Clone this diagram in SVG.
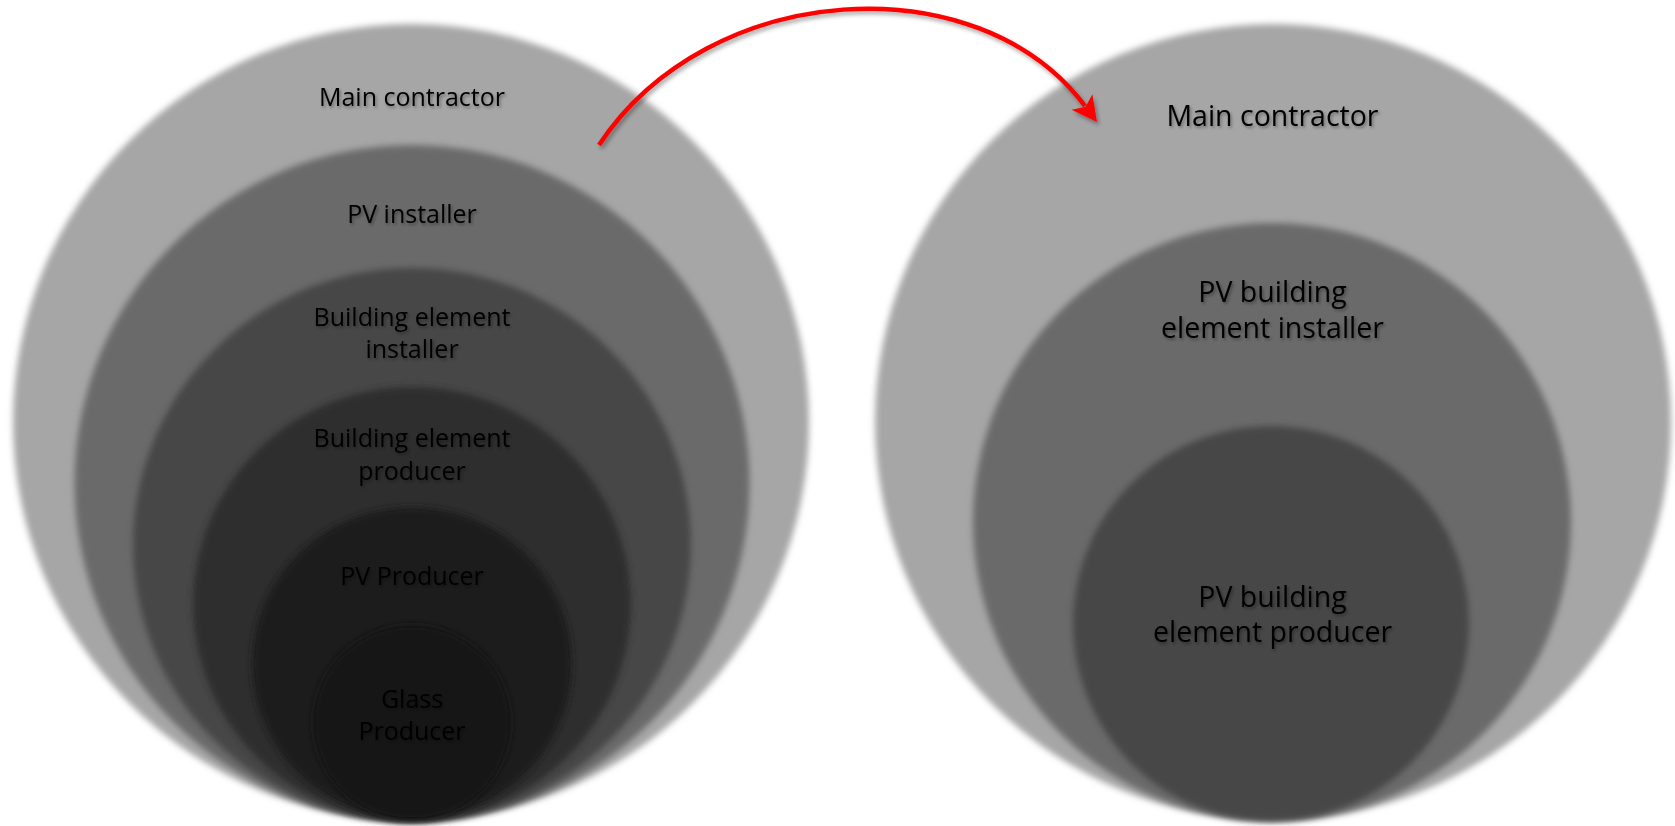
<svg xmlns="http://www.w3.org/2000/svg" width="1675" height="826" viewBox="0 0 1675 826">
  <defs>
    <filter id="soft" x="-10%" y="-10%" width="120%" height="120%">
      <feGaussianBlur stdDeviation="3"/>
    </filter>
    <filter id="tshadow" x="-10%" y="-30%" width="120%" height="160%">
      <feDropShadow dx="1.5" dy="2" stdDeviation="1.6" flood-color="#000" flood-opacity="0.35"/>
    </filter>
    <filter id="ashadow" x="-10%" y="-20%" width="120%" height="140%">
      <feDropShadow dx="2" dy="3" stdDeviation="2" flood-color="#000" flood-opacity="0.35"/>
    </filter>
    <marker id="head" viewBox="0 0 26 26" refX="5" refY="13" markerWidth="26" markerHeight="26" markerUnits="userSpaceOnUse" orient="auto">
      <path d="M25,13 L0,0 L6,13 L0,26 Z" fill="#ff0000"/>
    </marker>
    <style>
      .c1 { fill: #a6a6a6; }
      .c2 { fill: #6b6b6b; }
      .c3 { fill: #474747; }
      .c4 { fill: #2e2e2e; }
      .c5 { fill: #1f1f1f; }
      .c6 { fill: #131313; }
      .lbl { font-family: "Open Sans", "Liberation Sans", sans-serif; font-size: 25px; fill: #000; text-anchor: middle; }
      .lblR { font-family: "Open Sans", "Liberation Sans", sans-serif; font-size: 28.5px; fill: #000; text-anchor: middle; }
    </style>
  </defs>
  <rect width="1675" height="826" fill="#ffffff"/>

  <!-- Left diagram -->
  <g id="left-main-contractor">
    <ellipse class="c1" cx="411" cy="422" rx="398" ry="398" filter="url(#soft)"/>
    <text class="lbl" x="412" y="106" filter="url(#tshadow)">Main contractor</text>
  </g>
  <g id="left-pv-installer">
    <ellipse class="c2" cx="412" cy="483" rx="337.5" ry="338" filter="url(#soft)"/>
    <text class="lbl" x="412" y="223" filter="url(#tshadow)">PV installer</text>
  </g>
  <g id="left-building-element-installer">
    <ellipse class="c3" cx="412" cy="545" rx="279" ry="277" filter="url(#soft)"/>
    <text class="lbl" x="412" y="326" filter="url(#tshadow)">Building element</text>
    <text class="lbl" x="412" y="358" filter="url(#tshadow)">installer</text>
  </g>
  <g id="left-building-element-producer">
    <ellipse class="c4" cx="412" cy="604" rx="219" ry="217" filter="url(#soft)"/>
    <text class="lbl" x="412" y="447" filter="url(#tshadow)">Building element</text>
    <text class="lbl" x="412" y="480" filter="url(#tshadow)">producer</text>
  </g>
  <g id="left-pv-producer">
    <ellipse class="c5" cx="412" cy="663.5" rx="160" ry="156.5" filter="url(#soft)"/>
    <text class="lbl" x="412" y="585" filter="url(#tshadow)">PV Producer</text>
  </g>
  <g id="left-glass-producer">
    <ellipse class="c6" cx="412" cy="722.5" rx="99" ry="97.5" filter="url(#soft)"/>
    <text class="lbl" x="412" y="708" filter="url(#tshadow)">Glass</text>
    <text class="lbl" x="412" y="740" filter="url(#tshadow)">Producer</text>
  </g>

  <!-- Right diagram -->
  <g id="right-main-contractor">
    <ellipse class="c1" cx="1273" cy="422" rx="398" ry="398" filter="url(#soft)"/>
    <text class="lblR" x="1272.5" y="126" filter="url(#tshadow)">Main contractor</text>
  </g>
  <g id="right-pv-building-element-installer">
    <ellipse class="c2" cx="1272" cy="522" rx="299" ry="299" filter="url(#soft)"/>
    <text class="lblR" x="1272.5" y="302" filter="url(#tshadow)">PV building</text>
    <text class="lblR" x="1272.5" y="338" filter="url(#tshadow)">element installer</text>
  </g>
  <g id="right-pv-building-element-producer">
    <ellipse class="c3" cx="1271" cy="623.5" rx="198" ry="197.5" filter="url(#soft)"/>
    <text class="lblR" x="1272.5" y="607" filter="url(#tshadow)">PV building</text>
    <text class="lblR" x="1272.5" y="642" filter="url(#tshadow)">element producer</text>
  </g>

  <!-- Connectors -->
  <g id="connectors" filter="url(#ashadow)">
    <path d="M599,145 C709,-21 978,-37 1085,106" fill="none" stroke="#ff0000" stroke-width="4.5" marker-end="url(#head)"/>
  </g>
</svg>
